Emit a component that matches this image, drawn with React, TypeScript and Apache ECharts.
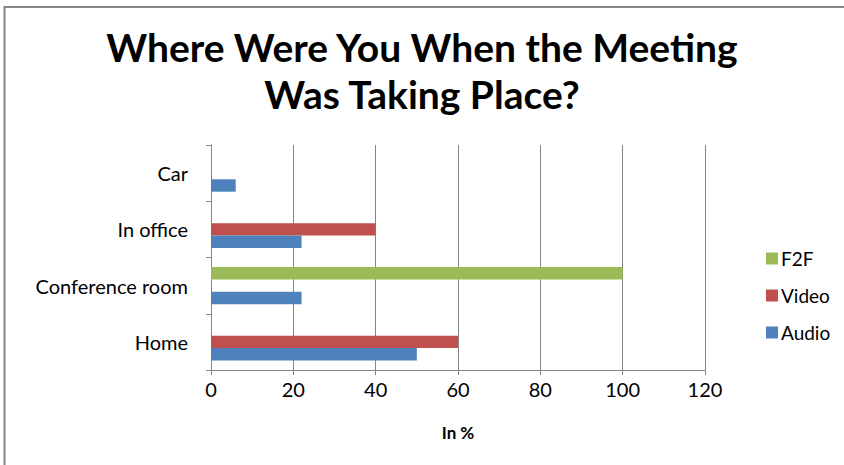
import React, { useEffect, useRef } from "react";
import * as echarts from "echarts";

const categories = ["Home", "Conference room", "In office", "Car"];
const audio = [50, 22, 22, 6];
const video = [60, 0, 40, 0];
const f2f = [0, 100, 0, 0];
const xTicks = { min: 0, max: 120, interval: 20 };
const titleLines = ["Where Were You When the Meeting", "Was Taking Place?"];

export default function App() {
  const ref = useRef<HTMLDivElement>(null);
  useEffect(() => {
    const chart = echarts.init(ref.current!, null, { renderer: "svg" });
    const font = "Lato, 'Open Sans', sans-serif";
    const toNull = (a: number[]) => a.map((v) => (v === 0 ? null : v));
    chart.setOption({
      animation: false,
      backgroundColor: "#fff",
      textStyle: { fontFamily: font },
      graphic: [
        {
          type: "rect",
          shape: { x: 4.5, y: 7, width: 860, height: 480 },
          style: { fill: "none", stroke: "#868686", lineWidth: 2 },
          silent: true,
        },
      ],
      title: {
        text: titleLines.join("\n"),
        left: "center",
        top: 18,
        itemGap: 0,
        textStyle: {
          fontFamily: font,
          fontSize: 39,
          fontWeight: "bold",
          color: "#000",
          lineHeight: 47,
        },
      },
      legend: {
        orient: "vertical",
        left: 761,
        top: 244,
        itemWidth: 12,
        itemHeight: 12,
        itemGap: 18,
        icon: "rect",
        data: ["F2F", "Video", "Audio"],
        textStyle: { fontFamily: font, fontSize: 19, color: "#000", padding: [0, 0, 0, -2] },
      },
      grid: { left: 211, right: 139, top: 145, bottom: 95, containLabel: false },
      xAxis: {
        type: "value",
        min: xTicks.min,
        max: xTicks.max,
        interval: xTicks.interval,
        name: "In %",
        nameLocation: "middle",
        nameGap: 54,
        nameTextStyle: { fontFamily: font, fontSize: 17, fontWeight: "bold", color: "#000" },
        axisLine: { show: true, lineStyle: { color: "#868686", width: 1 } },
        axisTick: { show: true, length: 5, lineStyle: { color: "#868686" } },
        axisLabel: { fontFamily: font, fontSize: 20, color: "#000", margin: 9 },
        splitLine: { show: true, lineStyle: { color: "#868686", width: 1 } },
      },
      yAxis: {
        type: "category",
        data: categories,
        axisLine: { show: true, lineStyle: { color: "#868686", width: 1 } },
        axisTick: { show: true, length: 5, lineStyle: { color: "#868686" } },
        axisLabel: { fontFamily: font, fontSize: 20, color: "#000", margin: 23, padding: [0, 0, 3, 0] },
        splitLine: { show: false },
      },
      series: [
        {
          name: "F2F",
          type: "bar",
          data: toNull(f2f),
          itemStyle: { color: "#9BBB59" },
          barGap: "0%",
          barCategoryGap: "34%",
        },
        {
          name: "Video",
          type: "bar",
          data: toNull(video),
          itemStyle: { color: "#C0504D" },
          barGap: "0%",
          barCategoryGap: "34%",
        },
        {
          name: "Audio",
          type: "bar",
          data: toNull(audio),
          itemStyle: { color: "#4F81BD" },
          barGap: "0%",
          barCategoryGap: "34%",
        },
      ],
    });
    return () => chart.dispose();
  }, []);
  return (
    <div
      ref={ref}
      style={{ position: "fixed", left: 0, top: 0, width: 844, height: 465 }}
    />
  );
}
